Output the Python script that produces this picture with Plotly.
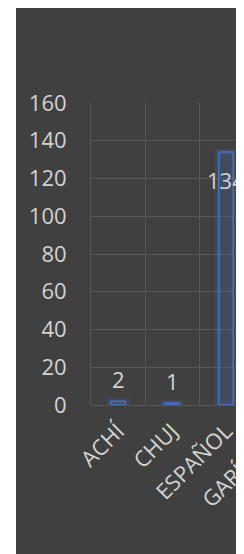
import plotly.graph_objects as go

# ---- data ----
categories = ["ACHÍ", "CHUJ", "ESPAÑOL", "GARÍFUNA"]
values = [2, 1, 134, None]
y_tick_values = [0, 20, 40, 60, 80, 100, 120, 140, 160]

# ---- geometry (pixels, page coords; the page body adds an 8px margin) ----
OFF = 8
W, H = 330, 554
PLOT_L, CAT_W = 91 - OFF, 54
PLOT_R = PLOT_L + CAT_W * len(categories)
PLOT_T, PLOT_B = 103 - OFF, 405 - OFF
PANEL_L, PANEL_T, PANEL_R = 16 - OFF, 0, 237 - OFF

def px_x(p):
    return (p - PLOT_L) / (PLOT_R - PLOT_L)

def px_y(p):
    return (PLOT_B - p) / (PLOT_B - PLOT_T)

BG = "#404040"
GRID = "#575757"
TXT = "#D3D3D3"
BLUE = "#4472C4"
FONT = "Open Sans"
FS = 22

fig = go.Figure()
# soft glow
fig.add_trace(go.Bar(
    x=categories, y=values, width=0.31,
    marker=dict(color="rgba(0,0,0,0)", line=dict(color="rgba(68,114,196,0.2)", width=6)),
    hoverinfo="skip", cliponaxis=True,
))
fig.add_trace(go.Bar(
    x=categories, y=values, width=0.27,
    marker=dict(color="rgba(68,114,196,0.22)", line=dict(color=BLUE, width=1.5)),
    cliponaxis=True,
))

for c, v in zip(categories, values):
    if v is None:
        continue
    fig.add_annotation(
        x=c, y=v, xref="x", yref="y", text=str(v), showarrow=False,
        yshift=(-28 if v > 100 else 22),
        font=dict(family=FONT, size=FS, color=TXT),
    )

fig.update_layout(
    width=W, height=H,
    margin=dict(l=PLOT_L, r=W - PLOT_R, t=PLOT_T, b=H - PLOT_B, pad=0),
    paper_bgcolor="white", plot_bgcolor="rgba(0,0,0,0)",
    barmode="overlay", showlegend=False,
    font=dict(family=FONT, size=FS, color=TXT),
    shapes=[
        dict(type="rect", xref="paper", yref="paper", layer="below",
             x0=px_x(PANEL_L), x1=px_x(PANEL_R), y0=px_y(H + 5), y1=px_y(PANEL_T),
             fillcolor=BG, line=dict(width=0)),
        dict(type="rect", xref="paper", yref="paper", layer="above",
             x0=px_x(PANEL_R), x1=px_x(W + 5), y0=px_y(H + 5), y1=px_y(-5),
             fillcolor="white", line=dict(width=0)),
    ],
)
fig.update_xaxes(
    type="category", categoryorder="array", categoryarray=categories,
    range=[-0.5, len(categories) - 0.5],
    tickson="boundaries", showgrid=True, gridcolor=GRID, gridwidth=1,
    ticks="", tickangle=-45, showline=False, zeroline=False,
    ticklabelstandoff=8,
    tickfont=dict(family=FONT, size=FS, color=TXT),
)
fig.update_yaxes(
    range=[0, 160], tickvals=y_tick_values, showgrid=True, gridcolor=GRID, gridwidth=1,
    zeroline=True, zerolinecolor=GRID, zerolinewidth=1,
    ticks="", showline=True, linecolor=GRID, linewidth=1, ticklabelstandoff=19,
    tickfont=dict(family=FONT, size=FS, color=TXT),
)

fig.write_html("out.html")
